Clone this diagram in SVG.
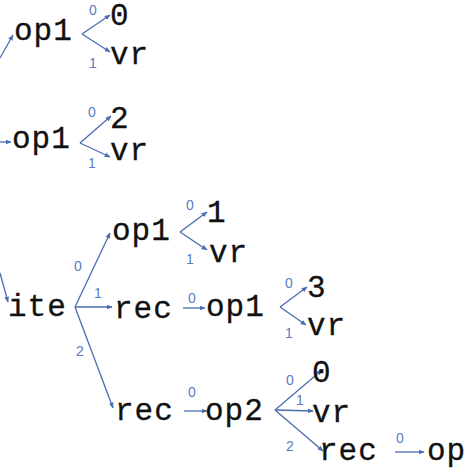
<svg xmlns="http://www.w3.org/2000/svg" width="474" height="474" viewBox="0 0 474 474">
<defs>
<marker id="ah" viewBox="0 0 10 10" refX="9" refY="5" markerWidth="6" markerHeight="6" markerUnits="userSpaceOnUse" orient="auto"><path d="M0,1 L10,5 L0,9 z" fill="#4a6cb3"/></marker>
<style>
.t{font-family:"Liberation Mono",monospace;font-size:31px;letter-spacing:1px;fill:#111;stroke:#111;stroke-width:0.3}
.l{font-family:"Liberation Sans",sans-serif;font-size:14px;fill:#5a7cc0;text-anchor:middle}
.e{stroke:#4a6cb3;stroke-width:1.3;fill:none;marker-end:url(#ah)}
</style>
</defs>
<rect width="474" height="474" fill="#fff"/>
<g id="connectors">
<path class="e" d="M0,58 L13,35"/>
<path class="e" d="M82,34 L110,15"/>
<path class="e" d="M82,34 L110,52"/>
<path class="e" d="M0,142 L11,142"/>
<path class="e" d="M80,143 L111,116"/>
<path class="e" d="M80,143 L110,157"/>
<path class="e" d="M0,273 L8,302"/>
<path class="e" d="M75,307 L110,233"/>
<path class="e" d="M75,307 L112,307"/>
<path class="e" d="M75,307 L113,408"/>
<path class="e" d="M180,232 L207,212"/>
<path class="e" d="M180,232 L207,250"/>
<path class="e" d="M183,308 L205,308"/>
<path class="e" d="M280,307 L307,287"/>
<path class="e" d="M280,307 L306,325"/>
<path class="e" d="M184,411 L207,411"/>
<path class="e" d="M275,410 L322,370"/>
<path class="e" d="M275,410 L313,411"/>
<path class="e" d="M275,410 L323,451"/>
<path class="e" d="M395,452 L424,452"/>
<text class="l" x="93" y="15">0</text>
<text class="l" x="93" y="68">1</text>
<text class="l" x="92" y="117">0</text>
<text class="l" x="92" y="168">1</text>
<text class="l" x="78" y="271">0</text>
<text class="l" x="98" y="298">1</text>
<text class="l" x="80" y="356">2</text>
<text class="l" x="190" y="210">0</text>
<text class="l" x="190" y="264">1</text>
<text class="l" x="192" y="303">0</text>
<text class="l" x="289" y="288">0</text>
<text class="l" x="289" y="338">1</text>
<text class="l" x="192" y="397">0</text>
<text class="l" x="290" y="385">0</text>
<text class="l" x="300" y="405">1</text>
<text class="l" x="290" y="451">2</text>
<text class="l" x="400" y="443">0</text>
</g>
<g id="op1a"><text class="t" x="14" y="40">op1</text></g>
<g id="c0a"><text class="t" x="110" y="25">0</text></g>
<g id="vra"><text class="t" x="110" y="64">vr</text></g>
<g id="op1b"><text class="t" x="12" y="148">op1</text></g>
<g id="c2"><text class="t" x="110" y="128">2</text></g>
<g id="vrb"><text class="t" x="110" y="160">vr</text></g>
<g id="ite"><text class="t" x="8" y="316">ite</text></g>
<g id="op1c"><text class="t" x="112" y="240">op1</text></g>
<g id="c1"><text class="t" x="207" y="222">1</text></g>
<g id="vrc"><text class="t" x="209" y="262">vr</text></g>
<g id="rec1"><text class="t" x="114" y="318">rec</text></g>
<g id="op1d"><text class="t" x="206" y="316">op1</text></g>
<g id="c3"><text class="t" x="307" y="297">3</text></g>
<g id="vrd"><text class="t" x="307" y="335">vr</text></g>
<g id="rec2"><text class="t" x="115" y="420">rec</text></g>
<g id="op2"><text class="t" x="205" y="420">op2</text></g>
<g id="c0b"><text class="t" x="312" y="382">0</text></g>
<g id="vre"><text class="t" x="312" y="422">vr</text></g>
<g id="rec3"><text class="t" x="319" y="460">rec</text></g>
<g id="op"><text class="t" x="427" y="460">op</text></g>
</svg>
